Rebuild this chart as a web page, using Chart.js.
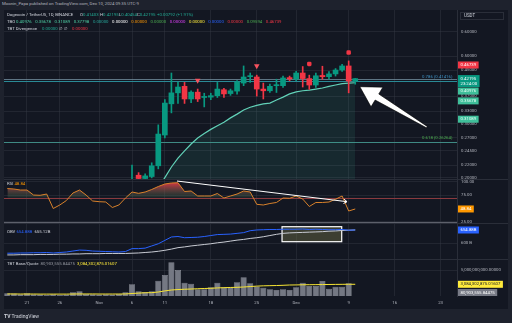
<!DOCTYPE html>
<html>
<head>
<meta charset="utf-8">
<title>DOGE/USDT 1D</title>
<script src="https://cdn.jsdelivr.net/npm/chart.js@4.4.1/dist/chart.umd.min.js"></script>
<style>
  html, body { margin: 0; padding: 0; }
  body { width: 512px; height: 323px; overflow: hidden; background: #1e222d; position: relative;
         font-family: Roboto, "Liberation Sans", sans-serif; }
  #frame { position: absolute; left: 4px; top: 10px; width: 504px; height: 299px; background: #131722; }
  canvas { position: absolute; left: 4px; }
  .sep { position: absolute; left: 4px; width: 504px; height: 1px; background: #2a2e39; }
  .t { position: absolute; white-space: nowrap; font-size: 4.3px; line-height: 1; color: #d1d4dc; }
  .row span { margin-right: 3.6px; }
  .g { color: #22ab94; }
  #usdt { position: absolute; left: 460px; top: 12px; width: 44px; height: 8px; background: #131722;
          border: 1px solid #2a2e39; box-sizing: border-box; font-size: 4.5px; line-height: 6px;
          color: #d1d4dc; padding-left: 3px; }
</style>
</head>
<body>
<div id="frame"></div>
<canvas id="price" width="504" height="169" style="top:10px"></canvas>
<canvas id="rsi" width="504" height="44" style="top:179px"></canvas>
<canvas id="obv" width="504" height="36" style="top:223px"></canvas>
<canvas id="vol" width="504" height="50" style="top:259px"></canvas>
<div class="sep" style="top:179px"></div>
<div class="sep" style="top:223px"></div>
<div class="sep" style="top:259px"></div>

<div class="t" style="left:2px;top:2.2px;color:#b2b5be">Moonin_Papa published on TradingView.com, Dec 10, 2024 09:35 UTC-9</div>
<div id="usdt">USDT</div>

<div class="t" style="left:7px;top:13px">Dogecoin / TetherUS, 1D, BINANCE</div>
<div class="t" style="left:80px;top:13px">O<span class="g">0.41403</span></div>
<div class="t" style="left:100px;top:13px">H<span class="g">0.42195</span></div>
<div class="t" style="left:119px;top:13px">L<span class="g">0.40454</span></div>
<div class="t" style="left:137px;top:13px">C<span class="g">0.42195</span></div>
<div class="t g" style="left:157px;top:13px">+0.00792 (+1.91%)</div>

<div class="t" style="left:7px;top:19.8px">TBO</div>
<div class="t row" style="left:16px;top:19.8px"><span style="color:#4fd1a5">0.40976</span><span style="color:#4fd1a5">0.35678</span><span style="color:#4fd1a5">0.31089</span><span style="color:#4fd1a5">0.37798</span><span style="color:#26a69a">0.00000</span><span style="color:#ffffff">0.00000</span><span style="color:#ff9800">0.00000</span><span style="color:#4caf50">0.00000</span><span style="color:#e040fb">0.00000</span><span style="color:#ffeb3b">0.00000</span><span style="color:#2962ff">0.00000</span><span style="color:#f23645">0.00000</span><span style="color:#4caf50">0.09594</span><span style="color:#f23645">0.46739</span></div>

<div class="t" style="left:7px;top:26.5px">TBT Divergence</div>
<div class="t" style="left:42px;top:26.5px;color:#22ab94">0.00000</div>
<div class="t" style="left:59px;top:26.5px">&empty;&nbsp;&nbsp;&empty;</div>
<div class="t" style="left:72px;top:26.5px;color:#f23645">0.00000</div>

<div class="t" style="left:7px;top:182px">RSI <span style="color:#ff9800">48.84</span></div>
<div class="t" style="left:7px;top:229.5px">OBV <span style="color:#2962ff">654.88B</span>&nbsp;&nbsp;<span>655.12B</span></div>
<div class="t" style="left:7px;top:262px">TBT Base/Quote&nbsp;&nbsp;<span style="color:#9598a1">80,903,555.84475</span>&nbsp;&nbsp;<span style="color:#ffeb3b">3,084,302,875.01607</span></div>

<div class="t" style="left:4px;top:313.5px;font-size:5px;color:#d1d4dc"><b>TV</b> TradingView</div>

<script>
// ---- data ----
const days = [
  'Oct 18','Oct 19','Oct 20','Oct 21','Oct 22','Oct 23','Oct 24','Oct 25','Oct 26','Oct 27','Oct 28','Oct 29','Oct 30','Oct 31',
  'Nov 1','Nov 2','Nov 3','Nov 4','Nov 5','Nov 6','Nov 7','Nov 8','Nov 9','Nov 10','Nov 11','Nov 12','Nov 13','Nov 14','Nov 15',
  'Nov 16','Nov 17','Nov 18','Nov 19','Nov 20','Nov 21','Nov 22','Nov 23','Nov 24','Nov 25','Nov 26','Nov 27','Nov 28','Nov 29','Nov 30',
  'Dec 1','Dec 2','Dec 3','Dec 4','Dec 5','Dec 6','Dec 7','Dec 8','Dec 9','Dec 10','Dec 11','Dec 12','Dec 13','Dec 14','Dec 15',
  'Dec 16','Dec 17','Dec 18','Dec 19','Dec 20','Dec 21','Dec 22','Dec 23','Dec 24','Dec 25'
];
const tickDays = ['Oct 21','Oct 26','Nov 1','Nov 6','Nov 11','Nov 18','Nov 25','Dec 1','Dec 9','Dec 16','Dec 23'];
const tickText = ['21','26','Nov','6','11','18','25','Dec','9','16','23'];

const N = null;
// candles (Oct 18 .. Nov 5 sit below the visible price range)
const opens = [N,N,N,N,N,N,N,N,N,N,N,N,N,N,N,N,N,N,N,
  0.168,0.204,0.199,0.202,0.219,0.276,0.349,0.379,0.398,0.362,0.381,0.366,0.367,0.371,0.388,0.377,0.384,0.408,
  0.428,0.427,0.390,0.385,0.400,0.400,0.425,0.420,0.440,0.422,0.402,0.432,0.428,0.437,0.450,0.464,0.41403];
const highs = [N,N,N,N,N,N,N,N,N,N,N,N,N,N,N,N,N,N,N,
  0.220,0.208,0.206,0.224,0.298,0.360,0.440,0.410,0.410,0.385,0.390,0.378,0.378,0.410,0.392,0.390,0.416,0.464,
  0.440,0.433,0.408,0.405,0.420,0.430,0.430,0.446,0.462,0.433,0.440,0.463,0.445,0.455,0.470,0.482,0.42195];
const lows = [N,N,N,N,N,N,N,N,N,N,N,N,N,N,N,N,N,N,N,
  0.165,0.190,0.196,0.200,0.214,0.270,0.326,0.350,0.350,0.352,0.355,0.341,0.360,0.366,0.366,0.372,0.375,0.400,
  0.410,0.370,0.362,0.380,0.380,0.395,0.415,0.415,0.396,0.389,0.395,0.420,0.420,0.430,0.445,0.379,0.40454];
const closes = [N,N,N,N,N,N,N,N,N,N,N,N,N,N,N,N,N,N,N,
  0.197,0.199,0.203,0.219,0.278,0.351,0.379,0.396,0.362,0.381,0.362,0.369,0.371,0.390,0.376,0.385,0.411,0.427,
  0.430,0.390,0.385,0.398,0.401,0.424,0.421,0.440,0.422,0.402,0.431,0.428,0.437,0.450,0.464,0.41403,0.42195];

// trailing band under the candles
const trail = [N,N,N,N,N,N,N,N,N,N,N,N,N,N,N,N,N,N,N,N,N,N,N,
  0.185,0.2004,0.217,0.232,0.245,0.258,0.270,0.279,0.288,0.296,0.304,0.314,0.323,0.333,0.340,0.345,0.349,
  0.351,0.359,0.367,0.376,0.382,0.385,0.387,0.390,0.393,0.398,0.402,0.406,0.408,0.409];

// signal markers
const sellTriangles = [N,N,N,N,N,N,N,N,N,N,N,N,N,N,N,N,N,N,N,N,N,N,N,N,N,N,N,N,N,0.416,N,N,N,N,N,N,N,N,0.464];
const sellPins = [N,N,N,N,N,N,N,N,N,N,N,N,N,N,N,N,N,N,N,N,N,N,N,N,N,N,N,N,N,N,N,N,N,N,N,N,N,N,N,N,N,N,N,N,N,N,0.471,N,N,N,N,N,0.513];
const tboLevels = [0.40976, 0.35678, 0.31089];
const tboTop = 0.46739;
const fib786 = 0.41416, fib618 = 0.26264;

const rsi = [87.2,86.3,84.4,84.4,75.0,74.5,76.9,49.7,56.3,64.7,78.8,84.4,75.0,63.8,62.5,61.9,51.6,56.3,69.4,80.7,
  78.2,80.7,85.4,91.0,95.7,97.6,98.1,81.6,82.6,73.2,73.2,73.2,77.9,69.4,73.2,76.9,82.6,80.7,57.6,56.3,
  59.1,61.0,69.4,68.9,73.2,67.5,53.5,61.0,61.0,61.9,67.0,73.2,45.0,48.84];

// OBV and its average, in billions
const obv = [559,559,560,560,561,561,562,560,562,564,568,572,571,568,567,566,565,564,566,578,
  578,580,589,598,612,626,628,623,624,625,628,632,636,637,638,641,644,652,655,656,
  657,657,658,658,658,659,657,658,657,656,656,657,654,654.888];
const obvMa = [552,552,553,553,553,554,554,554,555,555,556,556,557,557,557,558,558,558,558,559,
  560,562,564,567,571,576,582,585,589,592,595,598,602,605,609,613,616,620,623,627,
  632,637,641,643,644,645,646,647,648,650,651,653,654,655.128];

// volume and its average, in billions
const volume = [1.88,1.85,1.75,1.88,1.75,1.72,1.70,1.75,1.70,1.72,2.01,2.15,1.80,1.75,1.72,1.75,1.72,1.80,2.01,3.08,
  2.15,2.05,2.15,3.57,4.33,6.03,5.00,3.30,3.16,2.41,2.41,2.68,3.30,2.68,2.68,3.35,4.02,3.22,2.80,2.63,
  2.41,2.32,2.41,2.32,2.68,3.30,2.86,2.86,3.53,2.49,2.76,2.76,3.22,0.0809];
const volMa = [1.79,1.79,1.78,1.78,1.78,1.77,1.77,1.77,1.77,1.77,1.78,1.79,1.79,1.79,1.78,1.78,1.78,1.78,1.79,
  1.85,1.90,1.95,1.96,2.05,2.20,2.32,2.38,2.42,2.45,2.49,2.52,2.55,2.60,2.63,2.66,2.68,2.72,2.78,2.84,
  2.88,2.90,2.92,2.95,2.99,3.00,3.02,3.03,3.04,3.05,3.06,3.07,3.08,3.09,3.084];

const priceTicks = [0.6, 0.5, 0.45, 0.37, 0.33, 0.3, 0.27, 0.245, 0.22, 0.2];
const rsiTicks = [100, 75, 25];
const obvTicks = [600];
const volTicks = [5];

// ---- styling ----
const UP = '#089981', DOWN = '#f23645';
const GRID = 'rgba(54,58,69,0.45)';
const AXIS_TXT = '#b2b5be';
const FONT = 4.3;
const FAMILY = 'Roboto, "Liberation Sans", sans-serif';
Chart.defaults.font.family = FAMILY;
Chart.defaults.color = AXIS_TXT;

const noPad = s => { s.paddingTop = 0; s.paddingBottom = 0; s.paddingLeft = 0; s.paddingRight = 0; };

function xScale(withLabels) {
  return {
    type: 'category', offset: true,
    grid: { color: GRID, offset: false, drawTicks: false },
    border: { display: false },
    afterBuildTicks: s => { s.ticks = tickDays.map(d => ({ value: days.indexOf(d) })); },
    ticks: { display: withLabels, autoSkip: false, maxRotation: 0, padding: 4,
             font: { size: FONT }, color: AXIS_TXT, callback: (v, i) => tickText[i] },
    afterFit: s => { s.height = withLabels ? 13 : 0; noPad(s); }
  };
}

function yScale(type, min, max, ticks, fmt) {
  return {
    type, position: 'right', min, max, bounds: 'data',
    grid: { color: GRID, drawTicks: false },
    border: { display: true, color: '#2a2e39' },
    afterBuildTicks: s => { s.ticks = ticks.map(v => ({ value: v })); },
    ticks: { autoSkip: false, padding: 4, font: { size: FONT }, color: AXIS_TXT, callback: fmt },
    afterFit: s => { s.width = 51; noPad(s); }
  };
}

const baseOptions = {
  responsive: false, animation: false,
  layout: { padding: 0, autoPadding: false },
  plugins: { legend: { display: false }, tooltip: { enabled: false } }
};

// coloured value labels on the price axis
function valueBoxes(items) {
  return {
    id: 'valueBoxes',
    afterDraw(chart) {
      const { ctx, chartArea, scales: { y } } = chart;
      ctx.save();
      ctx.font = FONT + 'px ' + FAMILY;
      ctx.textBaseline = 'middle';
      let last = -Infinity;
      items.map(b => ({ ...b, py: y.getPixelForValue(b.value) }))
        .sort((a, b) => a.py - b.py)
        .forEach(b => {
          const h = b.sub ? 12 : 7;
          let top = Math.max(b.py - 3.5, last + 0.5);
          top = Math.min(Math.max(top, chartArea.top), chartArea.bottom - h);
          const w = Math.max(ctx.measureText(b.text).width, b.sub ? ctx.measureText(b.sub).width : 0) + 5;
          const x = chartArea.right + 1;
          ctx.fillStyle = b.bg;
          ctx.fillRect(x, top, w, h);
          ctx.fillStyle = b.fg;
          ctx.fillText(b.text, x + 2.5, top + 3.6);
          if (b.sub) ctx.fillText(b.sub, x + 2.5, top + 9);
          last = top + h;
        });
      ctx.restore();
    }
  };
}

function hline(ctx, area, py, color) {
  ctx.strokeStyle = color;
  ctx.lineWidth = 1;
  ctx.beginPath();
  ctx.moveTo(area.left, Math.round(py) + 0.5);
  ctx.lineTo(area.right, Math.round(py) + 0.5);
  ctx.stroke();
}

function bigArrow(ctx, x0, y0, x1, y1) {
  const dx = x1 - x0, dy = y1 - y0, len = Math.hypot(dx, dy);
  const ux = dx / len, uy = dy / len, nx = -uy, ny = ux;
  const headL = 20, headW = 11.5;
  const bx = x1 - ux * headL, by = y1 - uy * headL;
  ctx.beginPath();
  ctx.moveTo(x0 + nx * 0.8, y0 + ny * 0.8);
  ctx.lineTo(bx + nx * 3.5, by + ny * 3.5);
  ctx.lineTo(bx + nx * headW, by + ny * headW);
  ctx.lineTo(x1, y1);
  ctx.lineTo(bx - nx * headW, by - ny * headW);
  ctx.lineTo(bx - nx * 3.5, by - ny * 3.5);
  ctx.lineTo(x0 - nx * 0.8, y0 - ny * 0.8);
  ctx.closePath();
  ctx.fillStyle = '#ffffff';
  ctx.fill();
  ctx.strokeStyle = '#000000';
  ctx.lineWidth = 0.6;
  ctx.stroke();
}

// ---- price pane ----
const candleColor = opens.map((o, i) => o == null ? null : (closes[i] >= o ? UP : DOWN));
const lastClose = closes[closes.length - 1];

const priceDraw = {
  id: 'priceDraw',
  beforeDatasetsDraw(chart) {
    const { ctx, chartArea: a, scales: { y } } = chart;
    ctx.save();
    hline(ctx, a, y.getPixelForValue(lastClose), 'rgba(120,150,165,0.75)');
    hline(ctx, a, y.getPixelForValue(fib786), '#2a8a96');
    hline(ctx, a, y.getPixelForValue(fib618), '#3f8a84');
    ctx.font = FONT + 'px ' + FAMILY;
    ctx.textBaseline = 'bottom';
    ctx.fillStyle = '#3d8fc0';
    ctx.fillText('0.786 (0.41416)', a.right - 35, y.getPixelForValue(fib786) - 1.5);
    ctx.fillStyle = '#4caf50';
    ctx.fillText('0.618 (0.26264)', a.right - 35, y.getPixelForValue(fib618) - 1.5);
    ctx.restore();
  },
  afterDatasetsDraw(chart) {
    const { ctx, scales: { x, y } } = chart;
    ctx.save();
    bigArrow(ctx, x.getPixelForValue(63.9), y.getPixelForValue(0.293),
                  x.getPixelForValue(53.7), y.getPixelForValue(0.397));
    ctx.restore();
  }
};

new Chart(document.getElementById('price'), {
  type: 'bar',
  data: {
    labels: days,
    datasets: [
      { data: opens.map((o, i) => o == null ? null : [o, closes[i]]), backgroundColor: candleColor,
        barThickness: 5, minBarLength: 1, grouped: false },
      { data: lows.map((l, i) => l == null ? null : [l, highs[i]]), backgroundColor: candleColor,
        barThickness: 1, grouped: false },
      { type: 'line', data: sellTriangles, showLine: false, pointStyle: 'triangle', pointRotation: 180,
        pointRadius: 3.2, pointBackgroundColor: '#f7525f', pointBorderWidth: 0 },
      { type: 'line', data: sellPins, showLine: false, pointStyle: 'rectRounded',
        pointRadius: 2.6, pointBackgroundColor: '#f23645', pointBorderWidth: 0 },
      { type: 'line', data: trail, borderColor: '#62d2b8', borderWidth: 1.2, pointRadius: 0,
        fill: 'start', backgroundColor: 'rgba(60,170,150,0.12)' }
    ]
  },
  options: {
    ...baseOptions,
    scales: {
      x: xScale(false),
      y: yScale('logarithmic', 0.1983, 0.7067, priceTicks, v => Number(v).toFixed(5))
    }
  },
  plugins: [priceDraw, valueBoxes([
    { value: tboTop, text: tboTop.toFixed(5), bg: '#f23645', fg: '#ffffff' },
    { value: lastClose, text: lastClose.toFixed(5), sub: '23:24:00', bg: '#089981', fg: '#ffffff' },
    ...tboLevels.map(v => ({ value: v, text: v.toFixed(5), bg: '#3fbf9a', fg: '#e8fff7' }))
  ])]
});

// ---- RSI pane ----
const rsiDraw = {
  id: 'rsiDraw',
  beforeDatasetsDraw(chart) {
    const { ctx, chartArea: a, scales: { y } } = chart;
    ctx.save();
    hline(ctx, a, y.getPixelForValue(70), '#8a3a3f');
    hline(ctx, a, y.getPixelForValue(25), '#5d606b');
    ctx.restore();
  },
  afterDatasetsDraw(chart) {
    const { ctx, scales: { x, y } } = chart;
    const x0 = x.getPixelForValue(25.85), y0 = y.getPixelForValue(101.3);
    const x1 = x.getPixelForValue(51.75), y1 = y.getPixelForValue(62.5);
    ctx.save();
    ctx.strokeStyle = '#ffffff';
    ctx.lineWidth = 1;
    ctx.beginPath();
    ctx.moveTo(x0, y0);
    ctx.lineTo(x1, y1);
    const ang = Math.atan2(y1 - y0, x1 - x0);
    ctx.moveTo(x1 - 4 * Math.cos(ang - 0.6), y1 - 4 * Math.sin(ang - 0.6));
    ctx.lineTo(x1, y1);
    ctx.lineTo(x1 - 4 * Math.cos(ang + 0.6), y1 - 4 * Math.sin(ang + 0.6));
    ctx.stroke();
    ctx.restore();
  }
};

new Chart(document.getElementById('rsi'), {
  type: 'line',
  data: {
    labels: days,
    datasets: [{
      data: rsi, borderColor: '#d9822b', borderWidth: 1, pointRadius: 0,
      fill: { target: { value: 70 }, below: 'rgba(0,0,0,0)' },
      backgroundColor: ctx => {
        const { chart } = ctx;
        if (!chart.chartArea) return 'rgba(0,0,0,0)';
        const y = chart.scales.y;
        const g = chart.ctx.createLinearGradient(0, y.getPixelForValue(70), 0, y.getPixelForValue(100));
        g.addColorStop(0, 'rgba(60,110,80,0.25)');
        g.addColorStop(1, 'rgba(242,54,69,0.95)');
        return g;
      }
    }]
  },
  options: {
    ...baseOptions,
    scales: { x: xScale(false), y: yScale('linear', 22.5, 105.1, rsiTicks, v => Number(v).toFixed(2)) }
  },
  plugins: [rsiDraw, valueBoxes([{ value: rsi[rsi.length - 1], text: '48.84', bg: '#ff9800', fg: '#ffffff' }])]
});

// ---- OBV pane ----
const obvDraw = {
  id: 'obvDraw',
  beforeDatasetsDraw(chart) {
    const { ctx, scales: { x, y } } = chart;
    const x0 = x.getPixelForValue(41.85), x1 = x.getPixelForValue(50.94);
    const y0 = y.getPixelForValue(668.5), y1 = y.getPixelForValue(606.6);
    ctx.save();
    ctx.fillStyle = 'rgba(110,110,70,0.45)';
    ctx.fillRect(x0, y0, x1 - x0, y1 - y0);
    ctx.strokeStyle = '#ffffff';
    ctx.lineWidth = 1.2;
    ctx.strokeRect(x0, y0, x1 - x0, y1 - y0);
    ctx.restore();
  }
};

new Chart(document.getElementById('obv'), {
  type: 'line',
  data: {
    labels: days,
    datasets: [
      { data: obv, borderColor: '#2962ff', borderWidth: 1, pointRadius: 0 },
      { data: obvMa, borderColor: '#c9ccd4', borderWidth: 1, pointRadius: 0 }
    ]
  },
  options: {
    ...baseOptions,
    scales: { x: xScale(false), y: yScale('linear', 535.1, 683.8, obvTicks, v => v + ' B') }
  },
  plugins: [obvDraw, valueBoxes([{ value: obv[obv.length - 1], text: '654.88B', bg: '#2962ff', fg: '#ffffff' }])]
});

// ---- volume pane ----
const fmtVol = v => (v * 1e9).toLocaleString('en-US', { minimumFractionDigits: 5, maximumFractionDigits: 5 });

new Chart(document.getElementById('vol'), {
  type: 'bar',
  data: {
    labels: days,
    datasets: [
      { type: 'line', data: volMa, borderColor: '#f7e534', borderWidth: 1, pointRadius: 0 },
      { data: volume, backgroundColor: 'rgba(128,131,142,0.9)', borderColor: '#a3a6af', borderWidth: 0.5,
        barPercentage: 1, categoryPercentage: 0.92 }
    ]
  },
  options: {
    ...baseOptions,
    scales: { x: xScale(true), y: yScale('linear', 1.516, 6.474, volTicks, fmtVol) }
  },
  plugins: [valueBoxes([
    { value: volMa[volMa.length - 1], text: '3,084,302,875.01607', bg: '#ffeb3b', fg: '#131722' },
    { value: volume[volume.length - 1], text: '80,903,555.84475', bg: '#787b86', fg: '#ffffff' }
  ])]
});
</script>
</body>
</html>
